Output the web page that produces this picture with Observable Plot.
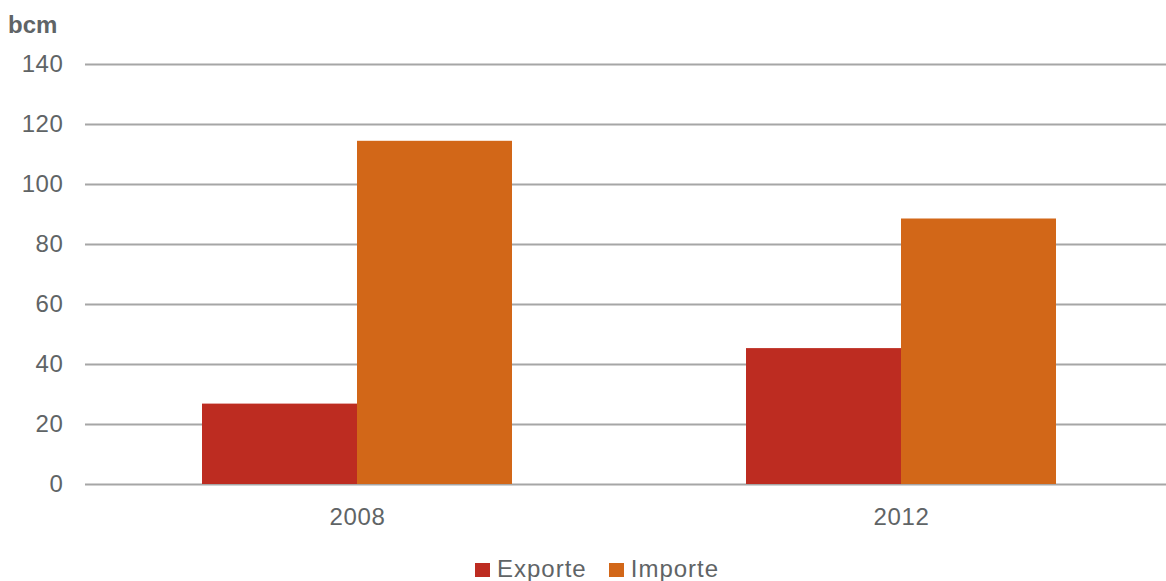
<!DOCTYPE html>
<html>
<head>
<meta charset="utf-8">
<script src="https://cdn.jsdelivr.net/npm/d3@7"></script>
<script src="https://cdn.jsdelivr.net/npm/@observablehq/plot@0.6"></script>
<style>
  html, body { margin: 0; padding: 0; background: #fff; }
  body { width: 1166px; height: 581px; overflow: hidden; font-family: "Liberation Sans", Arial, sans-serif; color: #5f6466; }
  #title { height: 44px; box-sizing: border-box; padding-top: 13px; padding-left: 8px; font-size: 24px; line-height: 24px; font-weight: bold; }
  #chart svg { display: block; }
  #legend { height: 37px; box-sizing: border-box; padding-top: 13px; padding-left: 475px; font-size: 24px; line-height: 24px; letter-spacing: 1px; white-space: nowrap; }
  #legend .item { display: inline-block; margin-right: 22px; }
  #legend .sw { display: inline-block; width: 15px; height: 14px; margin-right: 7px; vertical-align: baseline; }
</style>
</head>
<body>
<div id="title">bcm</div>
<div id="chart"></div>
<div id="legend"></div>
<script>
const years = ["2008", "2012"];
const series = ["Exporte", "Importe"];
const exporte = [26.8, 45.3];
const importe = [114.4, 88.5];
const colors = ["#BD2C21", "#D26718"];
const yTicks = [0, 20, 40, 60, 80, 100, 120, 140];

const values = {Exporte: exporte, Importe: importe};
const data = [];
years.forEach((y, i) => series.forEach(s => data.push({year: y, type: s, value: values[s][i]})));

const chart = Plot.plot({
  width: 1166,
  height: 500,
  marginTop: 20,
  marginBottom: 60,
  marginLeft: 85,
  marginRight: -7,
  style: {fontFamily: "'Liberation Sans', Arial, sans-serif", fontSize: "24px", color: "#5f6466", background: "#fff", letterSpacing: "0.6px"},
  fx: {domain: years, padding: 0, label: null},
  x: {domain: series, paddingInner: 0, paddingOuter: 0.744, axis: null},
  y: {domain: [0, 140], label: null},
  color: {domain: series, range: colors},
  marks: [
    Plot.ruleY(yTicks, {stroke: "#a6a6a6", strokeWidth: 2}),
    Plot.barY(data, {fx: "year", x: "type", y: "value", fill: "type"}),
    Plot.axisY(yTicks, {tickSize: 0, tickPadding: 22, label: null}),
    Plot.axisFx({anchor: "bottom", tickSize: 0, tickPadding: 23, label: null})
  ]
});
document.getElementById("chart").appendChild(chart);

const legend = document.getElementById("legend");
series.forEach((s, i) => {
  const item = document.createElement("span");
  item.className = "item";
  const sw = document.createElement("span");
  sw.className = "sw";
  sw.style.background = colors[i];
  item.appendChild(sw);
  item.appendChild(document.createTextNode(s));
  legend.appendChild(item);
});
</script>
</body>
</html>
